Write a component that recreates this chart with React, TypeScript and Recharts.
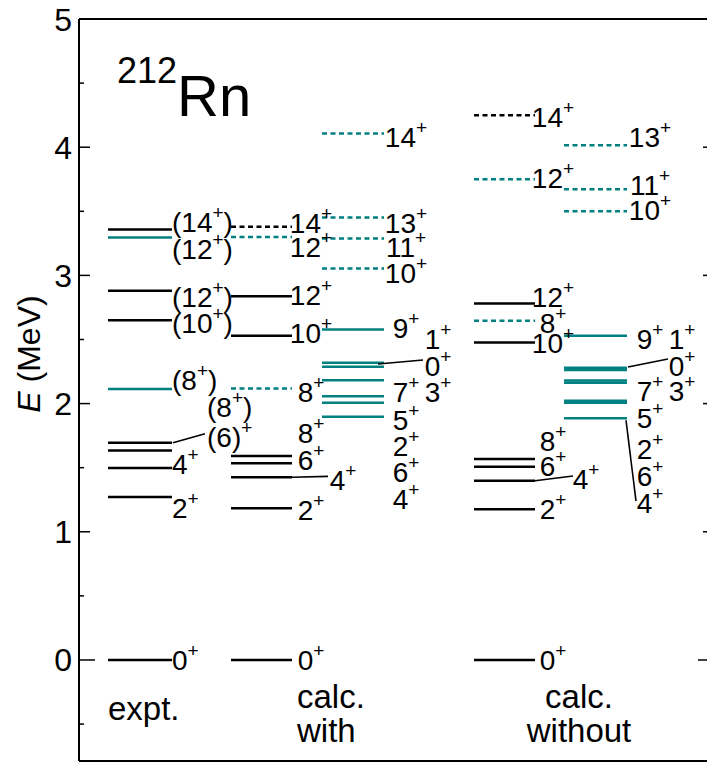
import { ComposedChart, XAxis, YAxis, ReferenceLine, Scatter } from 'recharts';

const TEAL = '#008080';
const FONT = '"Liberation Sans", Arial, sans-serif';

// level energies, MeV
const exptBlack = [0, 1.271, 1.497, 1.635, 1.694, 2.65, 2.88, 3.358];
const exptTeal = [2.113, 3.296];

const withBlack = [0, 1.183, 1.425, 1.534, 1.591, 2.529, 2.838];
const withBlackDashed = [3.379];
const withTealDashedLeft = [2.118, 3.3];
const withTealDashedRight = [3.054, 3.288, 3.452, 4.106];
const withTeal = [1.897, 2.006, 2.058, 2.183, 2.287, 2.318, 2.578];

const withoutBlack = [0, 1.175, 1.398, 1.507, 1.567, 2.477, 2.781];
const withoutBlackDashed = [4.25];
const withoutTealDashedLeft = [2.646, 3.75];
const withoutTealDashedRight = [3.501, 3.672, 4.016];
const withoutTeal = [1.885, 2.006, 2.022, 2.162, 2.18, 2.262, 2.28, 2.529];

// spin labels (e = where the label sits, slot = which label column)
const exptLabels = [
  { text: '0+', e: 0, slot: 0 },
  { text: '2+', e: 1.186, slot: 0 },
  { text: '4+', e: 1.529, slot: 0 },
  { text: '(6)+', e: 1.739, slot: 1 },
  { text: '(8+)', e: 1.973, slot: 1 },
  { text: '(8+)', e: 2.184, slot: 0 },
  { text: '(10+)', e: 2.629, slot: 0 },
  { text: '(12+)', e: 2.832, slot: 0 },
  { text: '(12+)', e: 3.206, slot: 0 },
  { text: '(14+)', e: 3.417, slot: 0 },
];
const withLeftLabels = [
  { text: '0+', e: 0, slot: 0 },
  { text: '2+', e: 1.17, slot: 0 },
  { text: '4+', e: 1.404, slot: 1 },
  { text: '6+', e: 1.56, slot: 0 },
  { text: '8+', e: 1.771, slot: 0 },
  { text: '8+', e: 2.09, slot: 0 },
  { text: '10+', e: 2.551, slot: 0 },
  { text: '12+', e: 2.847, slot: 0 },
  { text: '12+', e: 3.222, slot: 0 },
  { text: '14+', e: 3.409, slot: 0 },
];
const withRightLabels = [
  { text: '4+', e: 1.256, slot: 0 },
  { text: '6+', e: 1.466, slot: 0 },
  { text: '2+', e: 1.669, slot: 0 },
  { text: '5+', e: 1.872, slot: 0 },
  { text: '7+', e: 2.09, slot: 0 },
  { text: '3+', e: 2.09, slot: 1 },
  { text: '0+', e: 2.293, slot: 1 },
  { text: '1+', e: 2.504, slot: 1 },
  { text: '9+', e: 2.59, slot: 0 },
  { text: '10+', e: 3.019, slot: 0 },
  { text: '11+', e: 3.222, slot: 0 },
  { text: '13+', e: 3.409, slot: 0 },
  { text: '14+', e: 4.08, slot: 0 },
];
const withoutLeftLabels = [
  { text: '0+', e: 0, slot: 0 },
  { text: '2+', e: 1.178, slot: 0 },
  { text: '4+', e: 1.412, slot: 1 },
  { text: '6+', e: 1.513, slot: 0 },
  { text: '8+', e: 1.708, slot: 0 },
  { text: '10+', e: 2.473, slot: 0 },
  { text: '8+', e: 2.629, slot: 0 },
  { text: '12+', e: 2.832, slot: 0 },
  { text: '12+', e: 3.76, slot: 0 },
  { text: '14+', e: 4.236, slot: 0 },
];
const withoutRightLabels = [
  { text: '4+', e: 1.225, slot: 0 },
  { text: '6+', e: 1.435, slot: 0 },
  { text: '2+', e: 1.646, slot: 0 },
  { text: '5+', e: 1.888, slot: 0 },
  { text: '7+', e: 2.098, slot: 0 },
  { text: '3+', e: 2.098, slot: 1 },
  { text: '0+', e: 2.293, slot: 1 },
  { text: '1+', e: 2.504, slot: 1 },
  { text: '9+', e: 2.504, slot: 0 },
  { text: '10+', e: 3.51, slot: 0 },
  { text: '11+', e: 3.705, slot: 0 },
  { text: '13+', e: 4.08, slot: 0 },
];

// lines from a level to its label: level energy -> label energy
const connectors = [
  { e1: 1.694, e2: 1.765 },
  { e1: 1.425, e2: 1.432 },
  { e1: 2.309, e2: 2.34 },
  { e1: 1.398, e2: 1.435 },
  { e1: 2.285, e2: 2.348 },
  { e1: 1.87, e2: 1.24 },
];

const columnNames = [['expt.'], ['calc.', 'with'], ['calc.', 'without']];
const yTicks = [-0.5, 0, 0.5, 1, 1.5, 2, 2.5, 3, 3.5, 4, 4.5, 5];

// ---- layout (horizontal units = plot pixels) ----
const E_MIN = -0.788;
const E_MAX = 5;
const X_MIN = 79;
const X_MAX = 714;
const COLS: Record<string, { x1: number; x2: number; slots: number[]; anchor: string }> = {
  expt: { x1: 108, x2: 172, slots: [172, 207], anchor: 'start' },
  withL: { x1: 231, x2: 292, slots: [311, 343], anchor: 'middle' },
  withR: { x1: 322, x2: 384, slots: [406, 438], anchor: 'middle' },
  withoutL: { x1: 474, x2: 535, slots: [553, 586], anchor: 'middle' },
  withoutR: { x1: 564, x2: 627, slots: [650, 682], anchor: 'middle' },
};
const CONNECTOR_X = [[173, 205], [292, 328], [378, 423], [535, 573], [628, 668], [626, 636]];
const CAPTION_POS = [
  { x: 108, e: -0.468, anchor: 'start' },
  { x: 297, e: -0.374, anchor: 'start' },
  { x: 579, e: -0.374, anchor: 'middle' },
];

const levelLines = (levels: number[], col: string, color: string, dashed: boolean, key: string) =>
  levels.map((e, i) => (
    <ReferenceLine
      key={`${key}-${i}`}
      segment={[{ x: COLS[col].x1, y: e }, { x: COLS[col].x2, y: e }]}
      stroke={color}
      strokeWidth={2.5}
      strokeDasharray={dashed ? '5 3.5' : undefined}
    />
  ));

const labelPoints = (labels: { text: string; e: number; slot: number }[], col: string) =>
  labels.map((l) => ({ ...l, x: COLS[col].slots[l.slot], anchor: COLS[col].anchor }));

const SpinLabel = (props: any) => {
  const { cx, cy } = props;
  const p = props.payload || props;
  const parts = String(p.text).split('+');
  return (
    <text x={cx} y={cy + 10} fontSize={28} fontFamily={FONT} fill="#000" textAnchor={p.anchor}>
      {parts[0]}
      {parts.length > 1 && (
        <tspan fontSize={19} dy={-13}>
          +
        </tspan>
      )}
      {parts[1] ? <tspan fontSize={28} dy={13}>{parts[1]}</tspan> : null}
    </text>
  );
};

const Caption = (props: any) => {
  const { cx, cy } = props;
  const p = props.payload || props;
  return (
    <text x={cx} y={cy} fontSize={33} fontFamily={FONT} fill="#000" textAnchor={p.anchor}>
      {p.lines.map((t: string, i: number) => (
        <tspan key={i} x={cx} dy={i === 0 ? 0 : 34}>
          {t}
        </tspan>
      ))}
    </text>
  );
};

const Title = (props: any) => {
  const { cx, cy } = props;
  return (
    <text x={cx} y={cy} fontFamily={FONT} fill="#000">
      <tspan fontSize={36} dy={-33}>212</tspan>
      <tspan fontSize={58} dy={33}>Rn</tspan>
    </text>
  );
};

const LeftTick = (props: any) => {
  const { x, y, payload } = props;
  const v = payload.value;
  const major = Number.isInteger(v);
  const len = v === 0 ? 16 : major ? 11 : 5;
  return (
    <g>
      <line x1={x} x2={x + len} y1={y} y2={y} stroke="#000" strokeWidth={1.5} />
      {major && (
        <text x={x - 7} y={y + 11.5} textAnchor="end" fontSize={32} fontFamily={FONT} fill="#000">
          {v}
        </text>
      )}
    </g>
  );
};

const RightTick = (props: any) => {
  const { x, y, payload } = props;
  const v = payload.value;
  const len = v === 0 ? 16 : Number.isInteger(v) ? 11 : 5;
  return <line x1={x} x2={x - len} y1={y} y2={y} stroke="#000" strokeWidth={1.5} />;
};

const YTitle = (props: any) => {
  const vb = props.viewBox || { x: 0, y: 19 };
  const cx = vb.x + 29;
  const cy = vb.y + 335;
  return (
    <text
      x={cx}
      y={cy}
      transform={`rotate(-90, ${cx}, ${cy})`}
      textAnchor="middle"
      dominantBaseline="central"
      fontSize={32}
      fontFamily={FONT}
      fill="#000"
    >
      <tspan fontStyle="italic">E</tspan> (MeV)
    </text>
  );
};

export default function App() {
  const captionPts = columnNames.map((lines, i) => ({ lines, ...CAPTION_POS[i] }));
  const titlePts = [{ x: 117, e: 4.243 }];

  return (
    <div
      style={{
        position: 'fixed',
        left: 0,
        top: 0,
        width: 707,
        height: 764,
        overflow: 'hidden',
        background: '#fff',
      }}
    >
      <ComposedChart width={730} height={764} margin={{ top: 18, right: 15, bottom: 2, left: 0 }}>
        <XAxis
          type="number"
          dataKey="x"
          domain={[X_MIN, X_MAX]}
          allowDataOverflow
          height={1}
          tick={false}
          tickLine={false}
          axisLine={{ stroke: '#000', strokeWidth: 2 }}
        />
        <XAxis
          xAxisId="top"
          orientation="top"
          type="number"
          domain={[X_MIN, X_MAX]}
          allowDataOverflow
          height={1}
          tick={false}
          tickLine={false}
          axisLine={{ stroke: '#000', strokeWidth: 2 }}
        />
        <YAxis
          type="number"
          dataKey="e"
          domain={[E_MIN, E_MAX]}
          allowDataOverflow
          ticks={yTicks}
          interval={0}
          width={79}
          tickSize={0}
          tickMargin={0}
          tickLine={false}
          tick={<LeftTick />}
          axisLine={{ stroke: '#000', strokeWidth: 2 }}
          label={<YTitle />}
        />
        <YAxis
          yAxisId="right"
          orientation="right"
          type="number"
          domain={[E_MIN, E_MAX]}
          allowDataOverflow
          ticks={yTicks}
          interval={0}
          width={1}
          tickSize={0}
          tickMargin={0}
          tickLine={false}
          tick={<RightTick />}
          axisLine={false}
        />

        {levelLines(exptBlack, 'expt', '#000', false, 'eb')}
        {levelLines(exptTeal, 'expt', TEAL, false, 'et')}

        {levelLines(withBlack, 'withL', '#000', false, 'wb')}
        {levelLines(withBlackDashed, 'withL', '#000', true, 'wbd')}
        {levelLines(withTealDashedLeft, 'withL', TEAL, true, 'wtdl')}
        {levelLines(withTealDashedRight, 'withR', TEAL, true, 'wtdr')}
        {levelLines(withTeal, 'withR', TEAL, false, 'wt')}

        {levelLines(withoutBlack, 'withoutL', '#000', false, 'ob')}
        {levelLines(withoutBlackDashed, 'withoutL', '#000', true, 'obd')}
        {levelLines(withoutTealDashedLeft, 'withoutL', TEAL, true, 'otdl')}
        {levelLines(withoutTealDashedRight, 'withoutR', TEAL, true, 'otdr')}
        {levelLines(withoutTeal, 'withoutR', TEAL, false, 'ot')}

        {connectors.map((c, i) => (
          <ReferenceLine
            key={`c-${i}`}
            segment={[{ x: CONNECTOR_X[i][0], y: c.e1 }, { x: CONNECTOR_X[i][1], y: c.e2 }]}
            stroke="#000"
            strokeWidth={1.6}
          />
        ))}

        <Scatter data={labelPoints(exptLabels, 'expt')} dataKey="e" shape={<SpinLabel />} isAnimationActive={false} />
        <Scatter data={labelPoints(withLeftLabels, 'withL')} dataKey="e" shape={<SpinLabel />} isAnimationActive={false} />
        <Scatter data={labelPoints(withRightLabels, 'withR')} dataKey="e" shape={<SpinLabel />} isAnimationActive={false} />
        <Scatter data={labelPoints(withoutLeftLabels, 'withoutL')} dataKey="e" shape={<SpinLabel />} isAnimationActive={false} />
        <Scatter data={labelPoints(withoutRightLabels, 'withoutR')} dataKey="e" shape={<SpinLabel />} isAnimationActive={false} />
        <Scatter data={captionPts} dataKey="e" shape={<Caption />} isAnimationActive={false} />
        <Scatter data={titlePts} dataKey="e" shape={<Title />} isAnimationActive={false} />
      </ComposedChart>
    </div>
  );
}
